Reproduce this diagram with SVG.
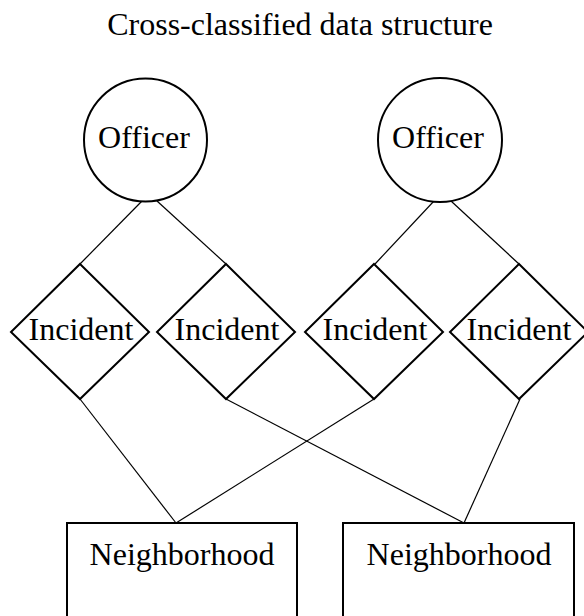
<svg xmlns="http://www.w3.org/2000/svg" width="584" height="616" viewBox="0 0 584 616">
<style>
text{font-family:"Liberation Serif","Times New Roman",serif;font-size:32px;fill:#000;text-anchor:middle}
.shape{fill:#fff;stroke:#000;stroke-width:2}
.edge{stroke:#000;stroke-width:1.2;fill:none}
</style>
<rect width="584" height="616" fill="#fff"/>
<text id="title" x="300" y="35">Cross-classified data structure</text>
<g id="connectors">
<line class="edge" x1="142" y1="201" x2="80" y2="264"/>
<line class="edge" x1="157" y1="201" x2="226" y2="264"/>
<line class="edge" x1="434" y1="201" x2="375" y2="264"/>
<line class="edge" x1="451" y1="201" x2="519" y2="264"/>
<line class="edge" x1="80" y1="399" x2="176" y2="523"/>
<line class="edge" x1="374" y1="399" x2="176" y2="523"/>
<line class="edge" x1="226" y1="399" x2="464" y2="523"/>
<line class="edge" x1="520" y1="399" x2="464" y2="523"/>
</g>
<g id="officer1"><circle class="shape" cx="145.5" cy="140" r="61.5"/><text x="144" y="148">Officer</text></g>
<g id="officer2"><circle class="shape" cx="440" cy="140" r="62"/><text x="438" y="148">Officer</text></g>
<g id="incident1"><polygon class="shape" points="80,264 149,332 80,399 11,332"/><text x="81" y="340">Incident</text></g>
<g id="incident2"><polygon class="shape" points="226,264 295,332 226,399 157,332"/><text x="227" y="340">Incident</text></g>
<g id="incident3"><polygon class="shape" points="374,264 443,332 374,399 305,332"/><text x="375" y="340">Incident</text></g>
<g id="incident4"><polygon class="shape" points="519,264 588,332 519,399 450,332"/><text x="519" y="340">Incident</text></g>
<g id="neighborhood1"><rect class="shape" x="67" y="523" width="230" height="110"/><text x="182" y="565">Neighborhood</text></g>
<g id="neighborhood2"><rect class="shape" x="343" y="523" width="231" height="110"/><text x="459" y="565">Neighborhood</text></g>
</svg>
